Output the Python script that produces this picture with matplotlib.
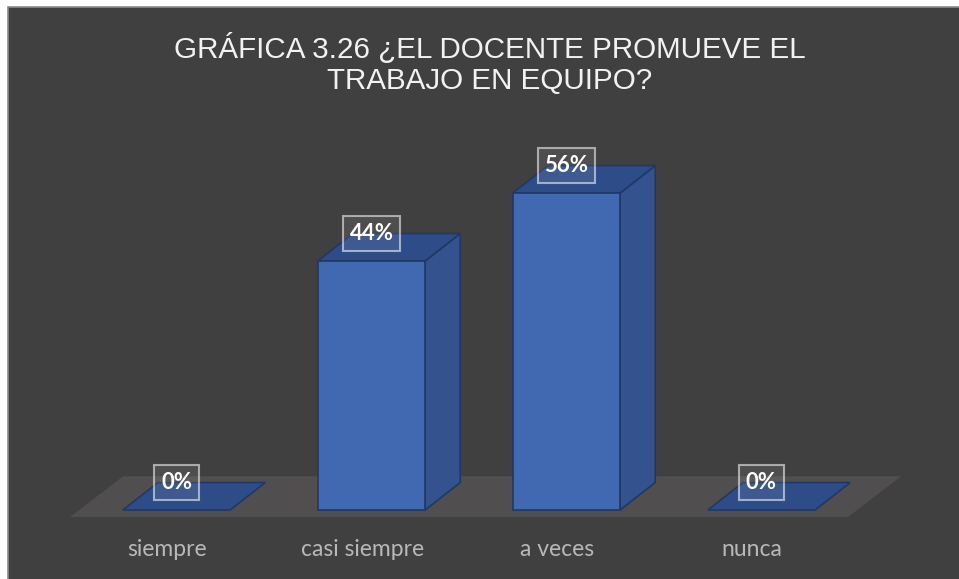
import matplotlib.pyplot as plt
from matplotlib.patches import Polygon, Rectangle

categories = ["siempre", "casi siempre", "a veces", "nunca"]
values = [0, 44, 56, 0]
labels = ["0%", "44%", "56%", "0%"]
title = "GRÁFICA 3.26 ¿EL DOCENTE PROMUEVE EL\nTRABAJO EN EQUIPO?"

BG = "#404040"
FRONT = "#4169b1"
TOP = "#2e4d88"
SIDE = "#34528d"
EDGE = "#203864"

fig = plt.figure(figsize=(9.59, 5.79), dpi=100)
fig.patch.set_facecolor("white")
fig.patches.append(Rectangle((8 / 959, -0.01), 1.0, 1 - 7 / 579 + 0.01,
                             transform=fig.transFigure, facecolor=BG,
                             edgecolor="#8a8a8a", linewidth=1.2, zorder=-5))

ax = fig.add_axes([0, 0, 1, 1])
ax.set_xlim(-176.5 / 195, (959 - 176.5) / 195)
ax.set_ylim(-69 / 5.66, 510 / 5.66)
ax.axis("off")
ax.patch.set_alpha(0)

# depth of the 3D effect
dx, dy = 0.18, 4.85
w = 0.55

# floor
fdx, fdy = 0.272, 7.2
fx0, fx1, fy = -0.546, 3.444, -1.24
ax.add_patch(Polygon([(fx0, fy), (fx1, fy), (fx1 + fdx, fy + fdy), (fx0 + fdx, fy + fdy)],
                     closed=True, facecolor="#504e4e", edgecolor="none", zorder=1))

for i, (v, lab) in enumerate(zip(values, labels)):
    x0, x1 = i - w / 2, i + w / 2
    top = [(x0, v), (x1, v), (x1 + dx, v + dy), (x0 + dx, v + dy)]
    if v > 0:
        side = [(x1, 0), (x1 + dx, dy), (x1 + dx, v + dy), (x1, v)]
        ax.add_patch(Polygon(side, closed=True, facecolor=SIDE, edgecolor=EDGE, lw=1.2, zorder=2))
        ax.add_patch(Polygon(top, closed=True, facecolor=TOP, edgecolor=EDGE, lw=1.2, zorder=2))
        ax.add_patch(Rectangle((x0, 0), w, v, facecolor=FRONT, edgecolor=EDGE, lw=1.2, zorder=3))
    else:
        ax.add_patch(Polygon(top, closed=True, facecolor=TOP, edgecolor=EDGE, lw=1.2, zorder=2))
    ax.text(i, v + dy, lab, ha="center", va="center", color="white", fontsize=16,
            fontweight="bold", family="Lato", zorder=5,
            bbox=dict(boxstyle="square,pad=0.3", facecolor=(1, 1, 1, 0.08),
                      edgecolor=(1, 1, 1, 0.55), linewidth=1.5))
    ax.text(i - 0.048, -6.9, categories[i], ha="center", va="center", color="#b8b8b8",
            fontsize=16.5, family="Lato", zorder=5)

fig.text(490 / 959, 1 - 64 / 579, title, ha="center", va="center", color="#f2f2f2",
         fontsize=21.3, family="Liberation Sans", linespacing=1.13)

fig.savefig("out.png", dpi=100, facecolor=fig.get_facecolor())
